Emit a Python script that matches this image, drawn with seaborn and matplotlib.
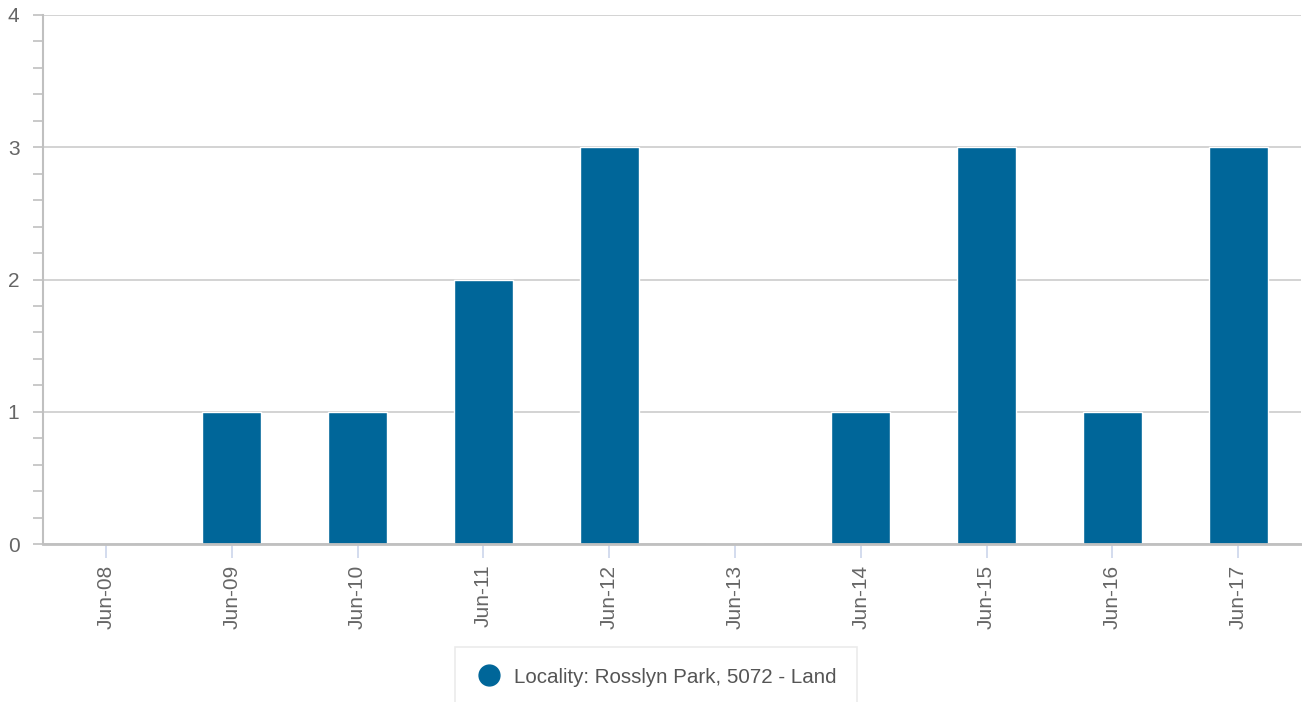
import pandas as pd
import numpy as np
import matplotlib
matplotlib.use('Agg')
import matplotlib.pyplot as plt
from matplotlib.ticker import MultipleLocator
from matplotlib.lines import Line2D
import seaborn as sns

years = ['Jun-08', 'Jun-09', 'Jun-10', 'Jun-11', 'Jun-12',
         'Jun-13', 'Jun-14', 'Jun-15', 'Jun-16', 'Jun-17']
counts = [0, 1, 1, 2, 3, 0, 1, 3, 1, 3]
series_name = 'Locality: Rosslyn Park, 5072 - Land'
bar_color = '#006699'

data = pd.DataFrame({'period': years, 'count': counts})

sns.set_style('white')
plt.rcParams['font.family'] = ['Liberation Sans', 'DejaVu Sans']

fig = plt.figure(figsize=(13.02, 7.02), dpi=100)
ax = fig.add_axes([43 / 1302, 1 - 544 / 702, 1258 / 1302, 529 / 702])

sns.barplot(data=data, x='period', y='count', color=bar_color,
            width=0.47, saturation=1, ax=ax, zorder=3)

ax.set_xlim(-0.5, len(years) - 0.5)
ax.set_ylim(0, 4)
ax.set_xlabel('')
ax.set_ylabel('')

ax.yaxis.set_major_locator(MultipleLocator(1))
ax.yaxis.set_minor_locator(MultipleLocator(0.2))
ax.grid(axis='y', which='major', color='#cccccc', linewidth=1.2, zorder=0)
ax.set_axisbelow(True)

for side in ['top', 'right']:
    ax.spines[side].set_visible(False)
ax.spines['left'].set_color('#c0c0c0')
ax.spines['left'].set_linewidth(1.5)
ax.spines['bottom'].set_color('#c0c0c0')
ax.spines['bottom'].set_linewidth(2)
ax.spines['bottom'].set_zorder(4)

ax.tick_params(axis='y', which='both', direction='out', length=7, width=1.2,
               color='#c0c0c0', labelsize=15, labelcolor='#666666', pad=10, left=True)
ax.tick_params(axis='x', direction='out', length=10, width=1.2, color='#ccd6eb',
               labelsize=15, labelcolor='#666666', pad=5, bottom=True)
plt.setp(ax.get_xticklabels(), rotation=90, va='top', ha='center')

handle = Line2D([], [], marker='o', linestyle='', markersize=15,
                markerfacecolor=bar_color, markeredgecolor=bar_color)
leg = fig.legend([handle], [series_name], loc='upper center',
                 bbox_to_anchor=(656 / 1302, 1 - 647 / 702), borderaxespad=0,
                 frameon=True, fancybox=False, fontsize=14.8, handletextpad=0.55,
                 borderpad=1.0, handlelength=1.3, labelcolor='#555555')
leg.get_frame().set_edgecolor('#e6e6e6')
leg.get_frame().set_linewidth(1.2)

fig.savefig('out.png', dpi=100)
